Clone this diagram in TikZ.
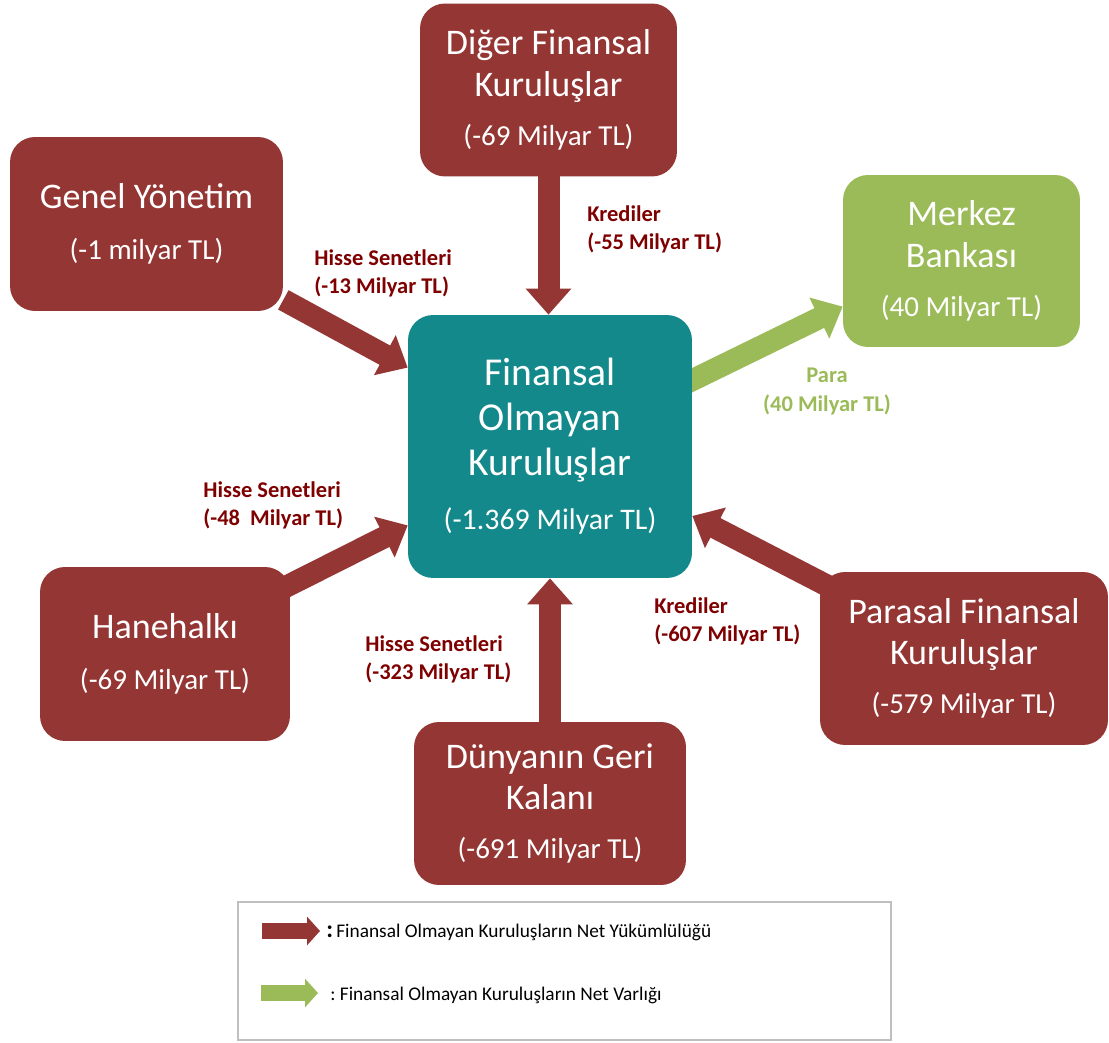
\documentclass[tikz,border=0pt]{standalone}
\usepackage{fontspec}
\setmainfont{Carlito}
\usetikzlibrary{arrows.meta}
\pgfdeclarelayer{bg}
\pgfsetlayers{bg,main}

\definecolor{koyu}{HTML}{943634}
\definecolor{deniz}{HTML}{13898B}
\definecolor{yesil}{HTML}{9BBB59}
\definecolor{etiket}{HTML}{7F0000}
\definecolor{cerceve}{HTML}{BFBFBF}

\newcommand{\tutar}[1]{{\fontsize{16.5}{20}\selectfont #1}}

\begin{document}
\begin{tikzpicture}[x=0.02cm,y=-0.02cm,
  kutu/.style={rounded corners=0.5cm, fill=koyu, text=white, align=center,
    inner sep=0pt, font=\fontsize{20.5}{23.5}\selectfont},
  ok/.style={draw=koyu, line width=0.44cm, shorten <=-0.2cm,
    -{Triangle[width=0.88cm,length=0.52cm]}},
  kucukok/.style={line width=0.32cm, -{Triangle[width=0.56cm,length=0.26cm]}},
  etk/.style={text=etiket, font=\fontsize{12.8}{16}\selectfont\bfseries,
    align=left, inner sep=0pt, anchor=north west}]
  \useasboundingbox (0,0) rectangle (1109,1043);

  % kutular
  \node[kutu, fill=deniz, minimum width=5.68cm, minimum height=5.26cm,
    font=\fontsize{22.5}{25.5}\selectfont] (fok) at (550,446.5)
    {Finansal\\Olmayan\\Kuruluşlar\\[5.5pt]{\fontsize{17}{20}\selectfont(-1.369 Milyar TL)}};
  \node[kutu, minimum width=5.46cm, minimum height=3.48cm] (genel) at (146.5,224)
    {Genel Yönetim\\[5.5pt]\tutar{(-1 milyar TL)}};
  \node[kutu, minimum width=5.14cm, minimum height=3.46cm] (diger) at (548.5,90)
    {Diğer Finansal\\Kuruluşlar\\[4.5pt]\tutar{(-69 Milyar TL)}};
  \node[kutu, fill=yesil, minimum width=4.74cm, minimum height=3.44cm] (merkez) at (961.5,261)
    {Merkez\\Bankası\\[4.5pt]\tutar{(40 Milyar TL)}};
  \node[kutu, minimum width=5.0cm, minimum height=3.48cm] (hane) at (165,654)
    {Hanehalkı\\[5.5pt]\tutar{(-69 Milyar TL)}};
  \node[kutu, minimum width=5.76cm, minimum height=3.46cm] (parasal) at (964,658.5)
    {Parasal Finansal\\Kuruluşlar\\[4.5pt]\tutar{(-579 Milyar TL)}};
  \node[kutu, minimum width=5.44cm, minimum height=3.26cm] (dunya) at (550,803.5)
    {Dünyanın Geri\\Kalanı\\[4.5pt]\tutar{(-691 Milyar TL)}};

  % oklar
  \begin{pgfonlayer}{bg}
    \draw[ok] (diger.south) -- (diger.south |- fok.north);
    \draw[ok] (dunya.north) -- (dunya.north |- fok.south);
    \draw[ok, shorten <=0pt] (genel.-29.5) -- (fok.151);
    \draw[ok] (hane.29) -- (fok.209.5);
    \draw[ok] (parasal.152.6) -- (fok.-26.7);
    \draw[ok, draw=yesil] (fok.25.8) -- (merkez.201.6);
  \end{pgfonlayer}

  % etiketler
  \node[etk] (eGenel) at (314,249) {Hisse Senetleri\\(-13 Milyar TL)};
  \node[etk] (eDiger) at (587,205) {Krediler\\(-55 Milyar TL)};
  \node[etk] (eHane) at (203,481) {Hisse Senetleri\\(-48~ Milyar TL)};
  \node[etk] (eDunya) at (365,635) {Hisse Senetleri\\(-323 Milyar TL)};
  \node[etk] (eParasal) at (654,597) {Krediler\\(-607 Milyar TL)};
  \node[etk, text=yesil, align=center, anchor=north] (ePara) at (827,368)
    {Para\\(40 Milyar TL)};

  % lejant
  \draw[cerceve, line width=0.03cm] (238,902) rectangle (891,1040);
  \coordinate (k1) at (262,931);
  \coordinate (k2) at (320,931);
  \coordinate (y1) at (261,993);
  \coordinate (y2) at (318,993);
  \draw[kucukok, koyu] (k1) -- (k2);
  \draw[kucukok, yesil] (y1) -- (y2);
  \node[anchor=base west, inner sep=0pt, font=\fontsize{11}{13}\selectfont] (tk) at (326,937)
    {{\fontsize{14}{14}\selectfont\textbf{:}}\,Finansal Olmayan Kuruluşların Net Yükümlülüğü};
  \node[anchor=base west, inner sep=0pt, font=\fontsize{11}{13}\selectfont] (ty) at (330,1000)
    {:\ Finansal Olmayan Kuruluşların Net Varlığı};
\end{tikzpicture}
\end{document}
